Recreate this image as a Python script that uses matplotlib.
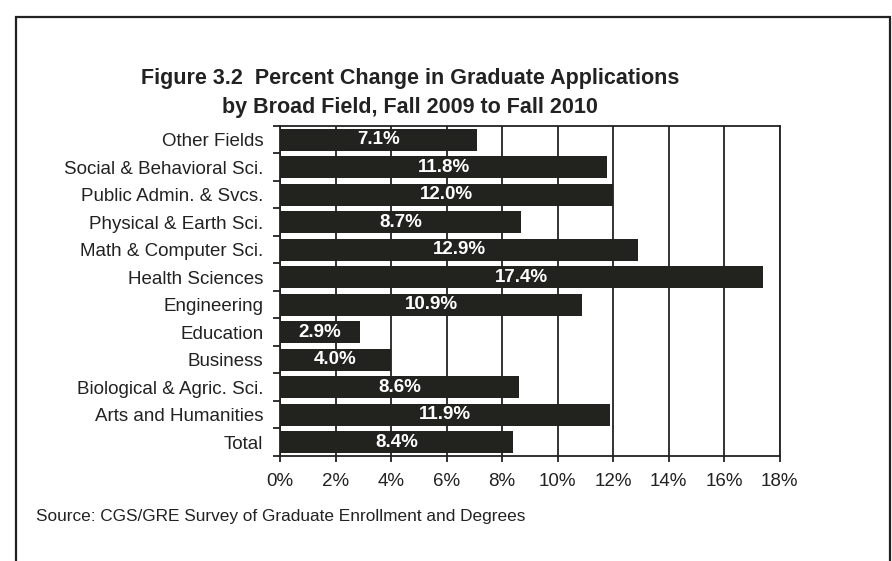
import matplotlib
matplotlib.use("Agg")
import matplotlib.pyplot as plt
from matplotlib.patches import Rectangle
from matplotlib.ticker import FixedLocator

plt.rcParams["font.family"] = ["Liberation Sans", "DejaVu Sans"]

# Fields listed top to bottom as they appear in the chart
fields = [
    "Other Fields",
    "Social & Behavioral Sci.",
    "Public Admin. & Svcs.",
    "Physical & Earth Sci.",
    "Math & Computer Sci.",
    "Health Sciences",
    "Engineering",
    "Education",
    "Business",
    "Biological & Agric. Sci.",
    "Arts and Humanities",
    "Total",
]
pct_change = [7.1, 11.8, 12.0, 8.7, 12.9, 17.4, 10.9, 2.9, 4.0, 8.6, 11.9, 8.4]
x_ticks = [0, 2, 4, 6, 8, 10, 12, 14, 16, 18]

BAR = "#22231f"
INK = "#222222"

fig = plt.figure(figsize=(8.92, 5.61), dpi=100)
ax = fig.add_axes([0.3139, 0.1872, 0.56, 0.5882])

n = len(fields)
ypos = [n - 1 - i for i in range(n)]
ax.barh(ypos, pct_change, height=0.8, color=BAR, zorder=3)
for y, v in zip(ypos, pct_change):
    ax.text(v / 2, y, f"{v:.1f}%", ha="center", va="center", color="white",
            fontsize=13.5, fontweight="bold", zorder=4)

ax.set_xlim(0, 18)
ax.set_ylim(-0.5, n - 0.5)
ax.set_xticks(x_ticks)
ax.set_xticklabels([f"{t}%" for t in x_ticks])
ax.xaxis.grid(True, color=INK, linewidth=1.3, zorder=1)
ax.set_axisbelow(True)

ax.set_yticks(ypos)
ax.set_yticklabels(fields)
ax.yaxis.set_minor_locator(FixedLocator([k - 0.5 for k in range(n + 1)]))
ax.tick_params(axis="y", which="major", length=0, pad=12, labelsize=13.5, labelcolor=INK)
ax.tick_params(axis="y", which="minor", length=5, width=1.3, color=INK, direction="out")
ax.tick_params(axis="x", length=4, width=1.3, color=INK, pad=8.5, labelsize=13.5, labelcolor=INK)

for side in ax.spines.values():
    side.set_color(INK)
    side.set_linewidth(1.3)

fig.text(0.46, 1 - 93 / 561,
         "Figure 3.2  Percent Change in Graduate Applications\nby Broad Field, Fall 2009 to Fall 2010",
         ha="center", va="center", fontsize=15.5, fontweight="bold", color=INK,
         linespacing=1.55)
fig.text(36 / 892, 1 - 517 / 561,
         "Source: CGS/GRE Survey of Graduate Enrollment and Degrees",
         ha="left", va="center", fontsize=12.4, color=INK)

# outer border, open at the bottom
fig.patches.append(Rectangle((16 / 892, -0.2), (890 - 16) / 892, 1.2 - 17 / 561,
                             transform=fig.transFigure, fill=False,
                             edgecolor=INK, linewidth=1.6, clip_on=False))

fig.savefig("out.png", dpi=100)
